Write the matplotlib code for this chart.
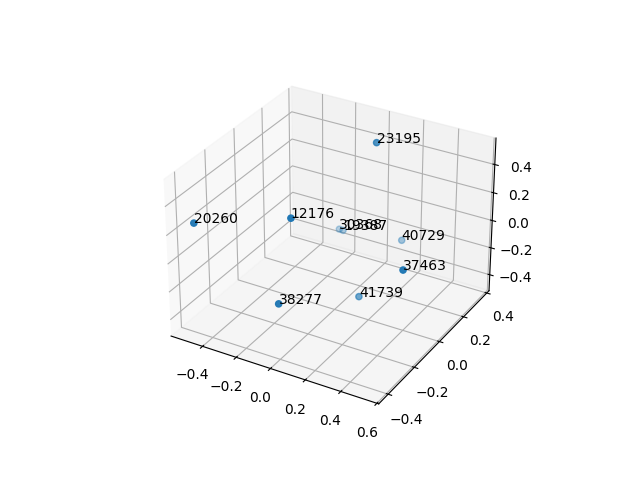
import matplotlib
matplotlib.use("Agg")
import matplotlib.pyplot as plt

# point ids and coordinates
labels = ['12176', '20260', '38277', '37463', '23195', '41739', '40729', '30368', '19387']
xs = [-0.034, -0.462, -0.004, 0.484, 0.109, 0.139, 0.109, -0.255, -0.206]
ys = [-0.272, -0.428, -0.401, -0.126, 0.172, 0.006, 0.388, 0.366, 0.332]
zs = [0.354, 0.298, -0.122, 0.058, 0.578, -0.377, -0.296, -0.322, -0.286]

fig = plt.figure(figsize=(6.4, 4.8), dpi=100)
ax = fig.add_subplot(projection='3d')
ax.scatter(xs, ys, zs)
for i in range(len(labels)):
    ax.text(xs[i], ys[i], zs[i], labels[i])

ax.set_xlim(-0.59, 0.61)
ax.set_ylim(-0.47, 0.42)
ax.set_zlim(-0.52, 0.585)

plt.savefig("out.png")
